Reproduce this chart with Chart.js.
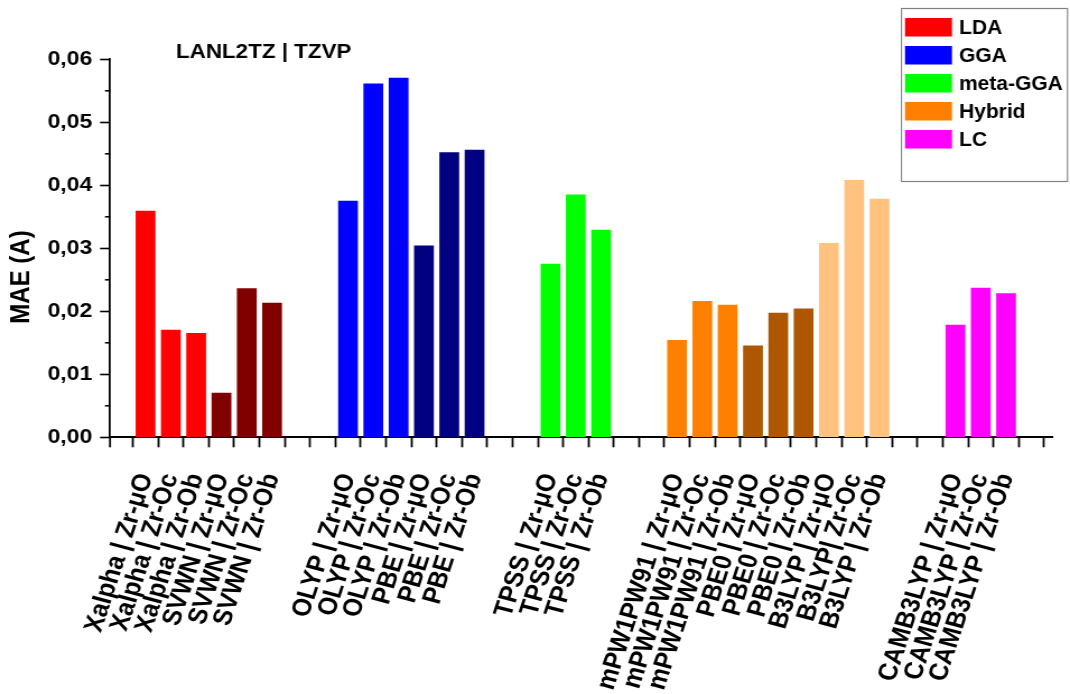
<!DOCTYPE html>
<html>
<head>
<meta charset="utf-8">
<script src="https://cdn.jsdelivr.net/npm/chart.js@4.4.1/dist/chart.umd.min.js"></script>
<style>
  html, body { margin: 0; padding: 0; background: #fff; overflow: hidden; }
  /* the plot is laid out on a narrower canvas and widened to the page */
  #wrap { width: 955px; height: 694px; transform: scaleX(1.1204); transform-origin: 0 0; }
</style>
</head>
<body>
<div id="wrap"><canvas id="c" width="955" height="694"></canvas></div>
<script>
// ---- data ----
const categories = [
  'Xalpha | Zr-μO', 'Xalpha | Zr-Oc', 'Xalpha | Zr-Ob',
  'SVWN | Zr-μO', 'SVWN | Zr-Oc', 'SVWN | Zr-Ob',
  '', '',
  'OLYP | Zr-μO', 'OLYP | Zr-Oc', 'OLYP | Zr-Ob',
  'PBE | Zr-μO', 'PBE | Zr-Oc', 'PBE | Zr-Ob',
  '', '',
  'TPSS | Zr-μO', 'TPSS | Zr-Oc', 'TPSS | Zr-Ob',
  '', '',
  'mPW1PW91 | Zr-μO', 'mPW1PW91 | Zr-Oc', 'mPW1PW91 | Zr-Ob',
  'PBE0 | Zr-μO', 'PBE0 | Zr-Oc', 'PBE0 | Zr-Ob',
  'B3LYP | Zr-μO', 'B3LYP| Zr-Oc', 'B3LYP | Zr-Ob',
  '', '',
  'CAMB3LYP | Zr-μO', 'CAMB3LYP | Zr-Oc', 'CAMB3LYP | Zr-Ob'
];
const mae = [
  0.0359, 0.0170, 0.0165,
  0.0070, 0.0236, 0.0213,
  null, null,
  0.0375, 0.0561, 0.0570,
  0.0304, 0.0452, 0.0456,
  null, null,
  0.0275, 0.0385, 0.0329,
  null, null,
  0.0154, 0.0216, 0.0210,
  0.0145, 0.0197, 0.0204,
  0.0308, 0.0408, 0.0378,
  null, null,
  0.0178, 0.0237, 0.0228
];
const yTickValues = [0, 0.01, 0.02, 0.03, 0.04, 0.05, 0.06];
const families = ['LDA', 'GGA', 'meta-GGA', 'Hybrid', 'LC'];
const chartTitle = 'LANL2TZ | TZVP';
const yTitle = 'MAE (A)';

// ---- styles ----
const STRETCH = 1.1204;
const FONT = '"Liberation Sans", Arial, sans-serif';
const familyColors = ['#FF0000', '#0000FF', '#00FF00', '#FF8000', '#FF00FF'];
const methodColors = {
  Xalpha: '#FF0000', SVWN: '#800000',
  OLYP: '#0000FF', PBE: '#000080',
  TPSS: '#00FF00',
  mPW1PW91: '#FF8000', PBE0: '#AE5700', B3LYP: '#FFC27F',
  CAMB3LYP: '#FF00FF'
};

const points = [];
const colors = [];
categories.forEach((label, i) => {
  if (mae[i] === null) return;
  points.push({ x: i + 1, y: mae[i] });
  colors.push(methodColors[label.split('|')[0].trim()]);
});

const overlay = {
  id: 'overlay',
  afterDraw(chart) {
    const ctx = chart.ctx;
    const ys = chart.scales.y;
    ctx.save();
    // minor ticks halfway between the labelled ones
    ctx.strokeStyle = '#000';
    ctx.lineWidth = 1.6;
    for (let i = 0; i < yTickValues.length - 1; i++) {
      const py = ys.getPixelForValue((yTickValues[i] + yTickValues[i + 1]) / 2);
      ctx.beginPath();
      ctx.moveTo(ys.right - 4.5, py);
      ctx.lineTo(ys.right, py);
      ctx.stroke();
    }
    // origin tick at the left end of the x axis
    ctx.lineWidth = 1.8;
    ctx.beginPath();
    ctx.moveTo(ys.right, ys.bottom);
    ctx.lineTo(ys.right, ys.bottom + 10);
    ctx.stroke();
    // title inside the plot
    ctx.fillStyle = '#000';
    ctx.font = 'bold 20px ' + FONT;
    ctx.textAlign = 'left';
    ctx.textBaseline = 'alphabetic';
    ctx.fillText(chartTitle, 157, 58);
    // y axis title
    ctx.save();
    ctx.translate(19.5, 277);
    ctx.rotate(-Math.PI / 2);
    ctx.font = 'bold 24px ' + FONT;
    ctx.textAlign = 'center';
    ctx.textBaseline = 'middle';
    ctx.fillText(yTitle, 0, 0);
    ctx.restore();
    // legend box (drawn in page units)
    ctx.scale(1 / STRETCH, 1);
    ctx.strokeStyle = '#808080';
    ctx.lineWidth = 1.2;
    ctx.strokeRect(901.5, 8.5, 166, 173);
    ctx.font = 'bold 21px ' + FONT;
    ctx.textBaseline = 'middle';
    families.forEach((name, i) => {
      const cy = 27 + i * 28;
      ctx.fillStyle = familyColors[i];
      ctx.fillRect(905, cy - 9, 47, 18.5);
      ctx.fillStyle = '#000';
      ctx.fillText(name, 959, cy + 1);
    });
    ctx.restore();
  }
};

new Chart(document.getElementById('c'), {
  type: 'bar',
  data: {
    datasets: [{
      data: points,
      backgroundColor: colors,
      borderWidth: 0,
      barThickness: 17
    }]
  },
  options: {
    responsive: false,
    animation: false,
    layout: { padding: { top: 59.3, right: 15.1, left: 0, bottom: 0 } },
    plugins: { legend: { display: false }, tooltip: { enabled: false } },
    scales: {
      x: {
        type: 'linear',
        min: 0.115,
        max: 36.34,
        afterFit(scale) { scale.height = 694 - 437.3; },
        grid: { drawOnChartArea: false, tickLength: 10, tickWidth: 1.8, tickColor: '#000' },
        border: { display: true, color: '#000', width: 2 },
        ticks: {
          stepSize: 1,
          includeBounds: false,
          maxTicksLimit: 100,
          autoSkip: false,
          minRotation: 73.5,
          maxRotation: 73.5,
          padding: 27,
          color: '#000',
          font: { family: FONT, size: 24, weight: 'bold', lineHeight: 0 },
          callback: (v) => categories[v - 1] || ''
        }
      },
      y: {
        min: 0,
        max: 0.06,
        afterFit(scale) { scale.width = 98.2; },
        afterBuildTicks(scale) { scale.ticks = yTickValues.map(v => ({ value: v })); },
        grid: { drawOnChartArea: false, tickLength: 8.9, tickWidth: 1.6, tickColor: '#000' },
        border: { display: true, color: '#000', width: 1.8 },
        ticks: {
          padding: 7,
          color: '#000',
          font: { family: FONT, size: 20.5, weight: 'bold' },
          callback: (v) => v.toFixed(2).replace('.', ',')
        }
      }
    }
  },
  plugins: [overlay]
});
</script>
</body>
</html>
